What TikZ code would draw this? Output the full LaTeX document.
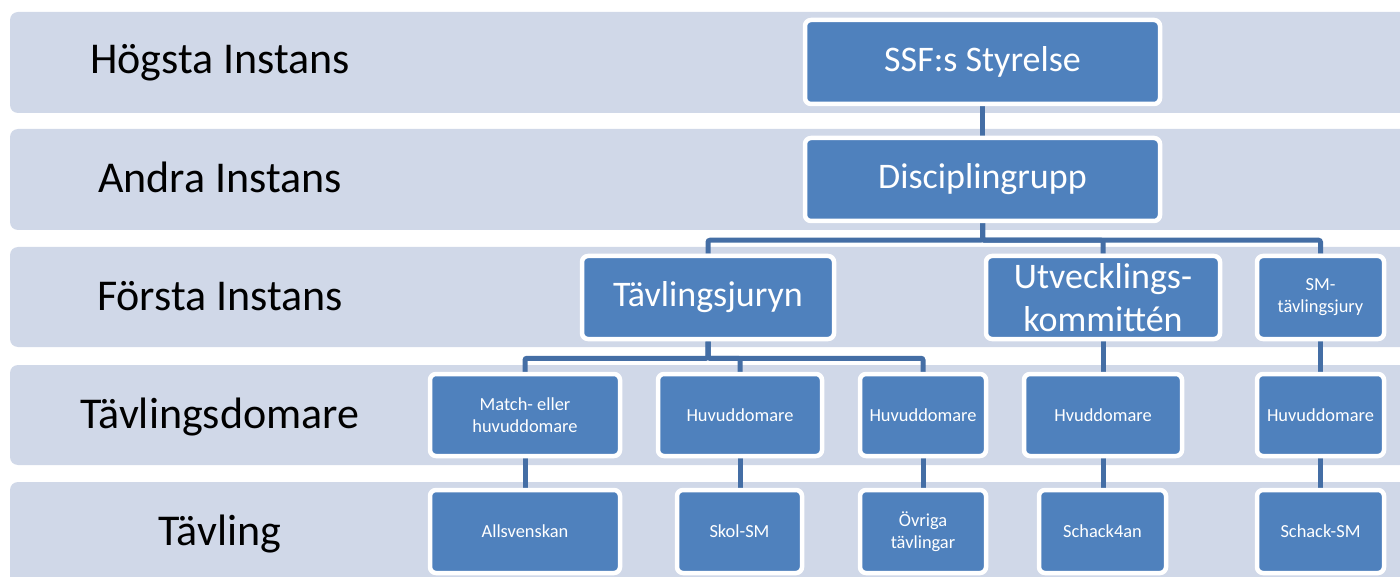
\documentclass[tikz,border=0pt]{standalone}
\usepackage{fontspec}
\setmainfont{Carlito}
\usetikzlibrary{calc}
\definecolor{bandc}{RGB}{208,216,232}
\definecolor{boxc}{RGB}{79,129,189}
\definecolor{linec}{RGB}{68,110,165}
\pgfdeclarelayer{bands}
\pgfdeclarelayer{links}
\pgfsetlayers{bands,links,main}
\begin{document}
\begin{tikzpicture}[x=1pt,y=-1pt,
  band/.style={fill=bandc, rounded corners=8pt},
  box/.style={draw=white, line width=4.5pt, fill=boxc, rounded corners=6pt, text=white, inner sep=0pt, align=center},
  big/.style={box, font=\fontsize{36}{43}\selectfont},
  small/.style={box, font=\fontsize{18.4}{22}\selectfont},
  lvl/.style={anchor=base, inner sep=0pt, font=\fontsize{44}{53}\selectfont},
  link/.style={draw=linec, line width=5pt, rounded corners=2pt}]
\useasboundingbox (0,0) rectangle (1400,577);
\clip (0,0) rectangle (1400,577);
\begin{pgfonlayer}{bands}
\fill[band] (10,12) rectangle (1420,113);
\fill[band] (10,129) rectangle (1420,230);
\fill[band] (10,247) rectangle (1420,347);
\fill[band] (10,365) rectangle (1420,465);
\fill[band] (10,482) rectangle (1420,600);
\end{pgfonlayer}
% level labels
\node[lvl] (l1) at (220,74) {Högsta Instans};
\node[lvl] (l2) at (220,193) {Andra Instans};
\node[lvl] (l3) at (220,310) {Första Instans};
\node[lvl] (l4) at (220,428) {Tävlingsdomare};
\node[lvl] (l5) at (220,545) {Tävling};
% boxes
\node[big, minimum width=355pt, minimum height=84pt] (ssf) at (982.5,62) {SSF:s Styrelse};
\node[big, minimum width=355pt, minimum height=83pt] (disc) at (982.5,179.5) {Disciplingrupp};
\node[big, minimum width=252pt, minimum height=83pt] (tav) at (708,297.5) {Tävlingsjuryn};
\node[big, minimum width=234pt, minimum height=83pt] (utv) at (1103,297.5) {Utvecklings-\\kommittén};
\node[small, minimum width=127pt, minimum height=83pt] (smj) at (1320.5,297.5) {SM-\\tävlingsjury};
\node[small, minimum width=190pt, minimum height=82pt] (match) at (525,415) {Match- eller\\huvuddomare};
\node[small, minimum width=164pt, minimum height=82pt] (huv2) at (740,415) {Huvuddomare};
\node[small, minimum width=126pt, minimum height=82pt] (huv3) at (923,415) {Huvuddomare};
\node[small, minimum width=158pt, minimum height=82pt] (huv4) at (1103,415) {Hvuddomare};
\node[small, minimum width=127pt, minimum height=82pt] (huv5) at (1320.5,415) {Huvuddomare};
\node[small, minimum width=190pt, minimum height=83pt] (alls) at (525,531.5) {Allsvenskan};
\node[small, minimum width=125pt, minimum height=83pt] (skol) at (739.5,531.5) {Skol-SM};
\node[small, minimum width=126pt, minimum height=83pt] (ovr) at (923,531.5) {Övriga\\tävlingar};
\node[small, minimum width=127pt, minimum height=83pt] (s4) at (1102.5,531.5) {Schack4an};
\node[small, minimum width=127pt, minimum height=83pt] (ssm) at (1320.5,531.5) {Schack-SM};
% connectors
\begin{pgfonlayer}{links}
\draw[link] (ssf.south) -- (disc.north);
\draw[link] (disc.south) -- ++(0,17) -| (tav.north);
\draw[link] (disc.south) -- ++(0,17) -| (utv.north);
\draw[link] (disc.south) -- ++(0,17) -| (smj.north);
\draw[link] (tav.south) -- ++(0,17) -| (match.north);
\draw[link] (tav.south) -- ++(0,17) -| (huv2.north);
\draw[link] (tav.south) -- ++(0,17) -| (huv3.north);
\draw[link] (utv.south) -- (utv.south |- huv4.north);
\draw[link] (smj.south) -- (huv5.north);
\draw[link] (match.south) -- (alls.north);
\draw[link] (huv2.south) -- (huv2.south |- skol.north);
\draw[link] (huv3.south) -- (ovr.north);
\draw[link] (huv4.south) -- (huv4.south |- s4.north);
\draw[link] (huv5.south) -- (ssm.north);
\end{pgfonlayer}
\end{tikzpicture}
\end{document}
